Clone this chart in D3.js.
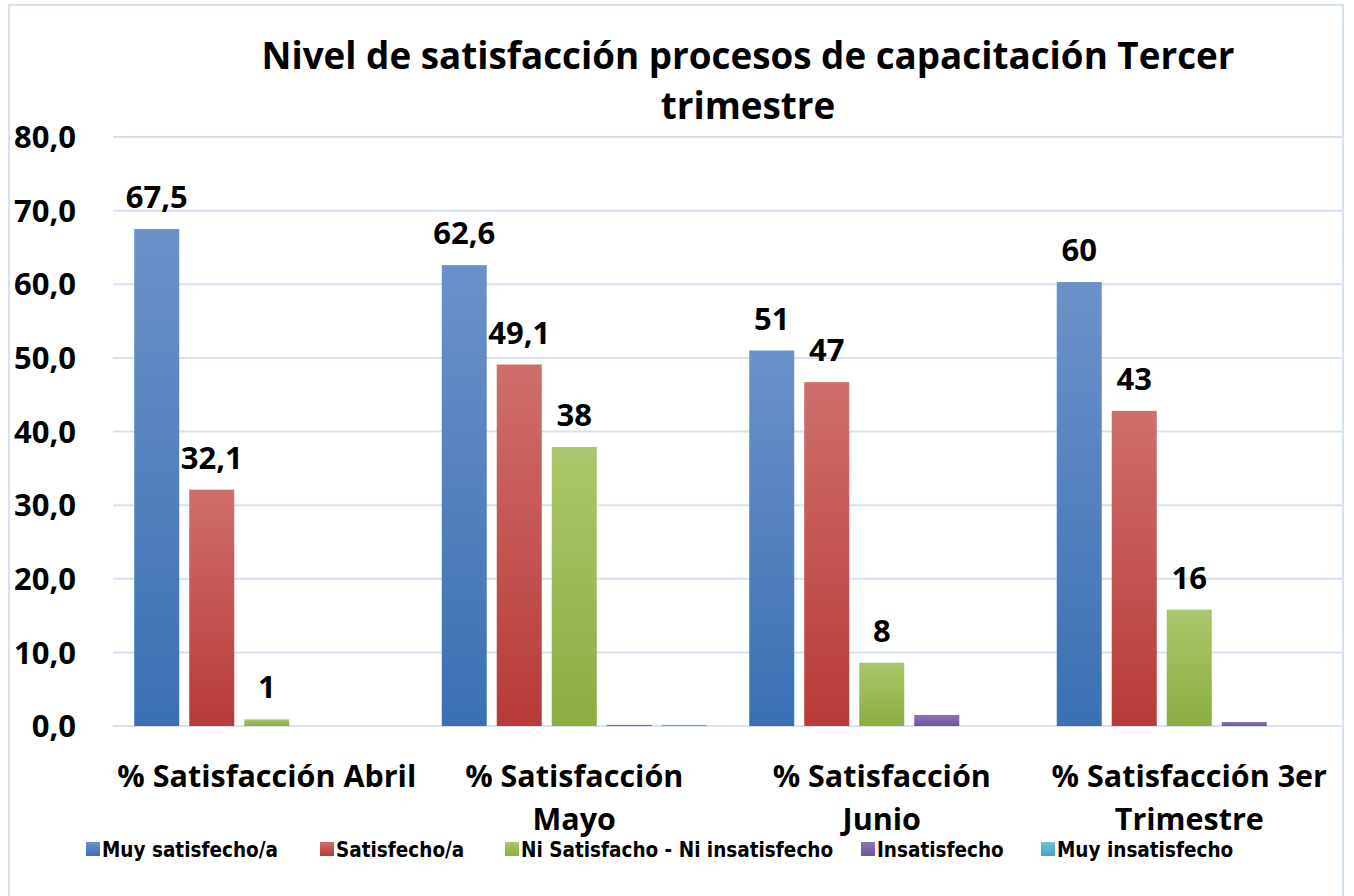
<!DOCTYPE html>
<html>
<head>
<meta charset="utf-8">
<script src="https://cdn.jsdelivr.net/npm/d3@7"></script>
<style>
  body { margin: 0; background: #fff; }
  svg { display: block; }
</style>
</head>
<body>
<svg id="chart" width="1354" height="896"></svg>
<script>
// chart data
const categories = ["% Satisfacción Abril", "% Satisfacción Mayo", "% Satisfacción Junio", "% Satisfacción 3er Trimestre"];
const categoryLines = [["% Satisfacción Abril"], ["% Satisfacción", "Mayo"], ["% Satisfacción", "Junio"], ["% Satisfacción 3er", "Trimestre"]];
const seriesNames = ["Muy satisfecho/a", "Satisfecho/a", "Ni Satisfacho - Ni insatisfecho", "Insatisfecho", "Muy insatisfecho"];

// values per series, one per category
const muySatisfecho  = [67.5, 62.6, 51.0, 60.3];
const satisfecho     = [32.1, 49.1, 46.7, 42.8];
const niSatisfecho   = [0.9, 37.9, 8.6, 15.8];
const insatisfecho   = [0, 0.15, 1.5, 0.55];
const muyInsatisfecho = [0, 0.15, 0, 0];

// data labels as printed on the chart (purple / cyan have none)
const muySatisfechoLbl = ["67,5", "62,6", "51", "60"];
const satisfechoLbl    = ["32,1", "49,1", "47", "43"];
const niSatisfechoLbl  = ["1", "38", "8", "16"];

const yTicks = [0, 10, 20, 30, 40, 50, 60, 70, 80];

const seriesValues = [muySatisfecho, satisfecho, niSatisfecho, insatisfecho, muyInsatisfecho];
const seriesLabels = [muySatisfechoLbl, satisfechoLbl, niSatisfechoLbl, null, null];
const colorsTop    = ["#6c91ca", "#cf6e6c", "#abc76c", "#8f75b4", "#6dc1d7"];
const colorsBottom = ["#3a70b3", "#b83a38", "#8bad41", "#7150a0", "#3fa6c2"];

const svg = d3.select("#chart");
const font = "'Open Sans', Lato, sans-serif";

// gradients, lighter at top
const defs = svg.append("defs");
seriesNames.forEach(function(s, i) {
  let g = defs.append("linearGradient")
    .attr("id", "grad" + i)
    .attr("x1", 0).attr("y1", 0).attr("x2", 0).attr("y2", 1);
  g.append("stop").attr("offset", "0%").attr("stop-color", colorsTop[i]);
  g.append("stop").attr("offset", "100%").attr("stop-color", colorsBottom[i]);
});

// outer border
svg.append("rect")
  .attr("x", 9).attr("y", 5)
  .attr("width", 1334).attr("height", 900)
  .attr("fill", "none")
  .attr("stroke", "#d5e2f2")
  .attr("stroke-width", 2);

// scales
let x0 = d3.scaleBand().domain(categories).range([113, 1343]);
let x1 = d3.scaleBand().domain(d3.range(seriesNames.length))
  .range([0, x0.bandwidth()])
  .paddingInner(0.1818)
  .paddingOuter(0.386);
let y = d3.scaleLinear().domain([0, 80]).range([726, 137]);

// gridlines
svg.append("g").selectAll("line")
  .data(yTicks)
  .join("line")
  .attr("x1", 113).attr("x2", 1343)
  .attr("y1", d => y(d)).attr("y2", d => y(d))
  .attr("stroke", "#d5e2f2")
  .attr("stroke-width", 2);

// y axis labels
svg.append("g").selectAll("text")
  .data(yTicks)
  .join("text")
  .attr("x", 76)
  .attr("y", d => y(d))
  .attr("dy", "0.36em")
  .attr("text-anchor", "end")
  .style("font-family", font)
  .style("font-weight", "bold")
  .style("font-size", "31px")
  .attr("fill", "#000")
  .text(d => d3.format(".1f")(d).replace(".", ","));

// bars
let groups = svg.append("g").selectAll("g")
  .data(categories)
  .join("g")
  .attr("transform", d => "translate(" + x0(d) + ",0)");

groups.selectAll("rect")
  .data((c, ci) => seriesValues.map((vals, si) => ({ s: si, v: vals[ci] })))
  .join("rect")
  .attr("x", d => x1(d.s))
  .attr("width", x1.bandwidth())
  .attr("y", d => y(d.v))
  .attr("height", d => y(0) - y(d.v))
  .attr("fill", d => "url(#grad" + d.s + ")");

// data labels
groups.selectAll("text.lbl")
  .data((c, ci) => seriesValues.map((vals, si) => ({ s: si, v: vals[ci], t: seriesLabels[si] ? seriesLabels[si][ci] : null }))
    .filter(d => d.t !== null))
  .join("text")
  .attr("class", "lbl")
  .attr("x", d => x1(d.s) + x1.bandwidth() / 2)
  .attr("y", d => y(d.v) - 21)
  .attr("text-anchor", "middle")
  .style("font-family", font)
  .style("font-weight", "bold")
  .style("font-size", "31px")
  .attr("fill", "#000")
  .text(d => d.t);

// category labels
categories.forEach(function(c, i) {
  let t = svg.append("text")
    .attr("x", x0(c) + x0.bandwidth() / 2)
    .attr("y", 787)
    .attr("text-anchor", "middle")
    .style("font-family", font)
    .style("font-weight", "bold")
    .style("font-size", "30.5px")
    .attr("fill", "#000");
  categoryLines[i].forEach(function(line, j) {
    t.append("tspan")
      .attr("x", x0(c) + x0.bandwidth() / 2)
      .attr("dy", j === 0 ? 0 : 43)
      .text(line);
  });
});

// title
let title = svg.append("text")
  .attr("x", 748)
  .attr("y", 69)
  .attr("text-anchor", "middle")
  .style("font-family", font)
  .style("font-weight", "bold")
  .style("font-size", "36.8px")
  .attr("fill", "#000");
title.append("tspan").attr("x", 748).attr("dy", 0).text("Nivel de satisfacción procesos de capacitación Tercer");
title.append("tspan").attr("x", 748).attr("dy", 50).text("trimestre");

// legend
const legendX = [86, 320, 505, 861, 1041];
let legend = svg.append("g").selectAll("g")
  .data(seriesNames)
  .join("g")
  .attr("transform", (d, i) => "translate(" + legendX[i] + ",842)");
legend.append("rect")
  .attr("width", 14).attr("height", 14)
  .attr("fill", (d, i) => "url(#grad" + i + ")");
legend.append("text")
  .attr("x", 16)
  .attr("y", 15)
  .style("font-family", "'Liberation Sans Narrow', 'DejaVu Sans Condensed', sans-serif")
  .style("font-weight", "bold")
  .style("font-size", "20.5px")
  .attr("fill", "#000")
  .text(d => d);
</script>
</body>
</html>
